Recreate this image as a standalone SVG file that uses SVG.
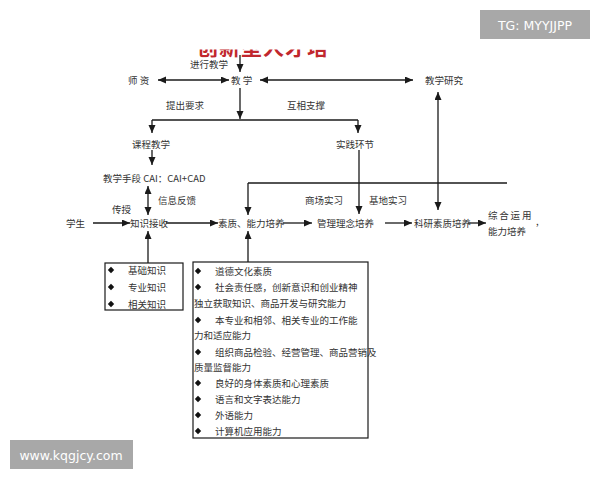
<svg xmlns="http://www.w3.org/2000/svg" width="600" height="480" viewBox="0 0 600 480">
<style>
.t{font-family:"Noto Sans CJK SC","Liberation Serif",serif;font-size:9.5px;fill:#333;dominant-baseline:central}
.c{fill:none;stroke:#1a1a1a;stroke-width:1.3}
.box{fill:#fff;stroke:#1a1a1a;stroke-width:1.2}
.wm{fill:#a8a8a8}
.wt{font-family:"DejaVu Sans","Liberation Sans",sans-serif;font-size:12.5px;fill:#fff;dominant-baseline:central;text-anchor:middle}
</style>
<defs>
<marker id="ah" markerUnits="userSpaceOnUse" markerWidth="9" markerHeight="8" refX="8" refY="3.5" orient="auto-start-reverse">
<path d="M0,0 L8,3.5 L0,7 z" fill="#1a1a1a"/>
</marker>
<path id="dm" d="M0,-3.2 L3.2,0 L0,3.2 L-3.2,0 z" fill="#111"/>
<clipPath id="tc" clipPathUnits="userSpaceOnUse"><rect x="190" y="49.5" width="150" height="8"/></clipPath>
</defs>
<rect width="600" height="480" fill="#fff"/>

<g id="title">
<text x="197" y="55" clip-path="url(#tc)" style="font-family:'Noto Sans CJK SC',sans-serif;font-size:21px;font-weight:bold;fill:#c1272d;letter-spacing:1px">创新型人才培</text>
</g>

<g id="connectors" class="c">
<path d="M240,55 V72" marker-end="url(#ah)"/>
<path d="M158,80 H229" marker-start="url(#ah)" marker-end="url(#ah)"/>
<path d="M260,80 H413" marker-start="url(#ah)" marker-end="url(#ah)"/>
<path d="M240,88 V119" marker-end="url(#ah)"/>
<path d="M152,120 H358"/>
<path d="M152,120 V133" marker-end="url(#ah)"/>
<path d="M358,120 V133" marker-end="url(#ah)"/>
<path d="M152,150 V165" marker-end="url(#ah)"/>
<path d="M148,186 V215" marker-start="url(#ah)" marker-end="url(#ah)"/>
<path d="M93,223 H130" marker-end="url(#ah)"/>
<path d="M166,223 H218" marker-end="url(#ah)"/>
<path d="M283,223 H312" marker-end="url(#ah)"/>
<path d="M385,223 H412" marker-end="url(#ah)"/>
<path d="M468,223 H486" marker-end="url(#ah)"/>
<path d="M359,150 V214" marker-end="url(#ah)"/>
<path d="M438,92 V210" marker-start="url(#ah)" marker-end="url(#ah)"/>
<path d="M248,183 H507"/>
<path d="M248,183 V215" marker-end="url(#ah)"/>
<path d="M148,263 V231" marker-end="url(#ah)"/>
<path d="M248,262 V231" marker-end="url(#ah)"/>
</g>

<g id="n-jinxing"><text class="t" x="190" y="63.5">进行教学</text></g>
<g id="n-shizi"><text class="t" x="128" y="80">师 资</text></g>
<g id="n-jiaoxue"><text class="t" x="231" y="80">教 学</text></g>
<g id="n-yanjiu"><text class="t" x="425" y="80">教学研究</text></g>
<g id="n-tichu"><text class="t" x="166" y="105">提出要求</text></g>
<g id="n-huxiang"><text class="t" x="287" y="105">互相支撑</text></g>
<g id="n-kecheng"><text class="t" x="132" y="144">课程教学</text></g>
<g id="n-shijian"><text class="t" x="336" y="144">实践环节</text></g>
<g id="n-shouduan"><text class="t" x="103" y="178">教学手段 CAI：CAI+CAD</text></g>
<g id="n-fankui"><text class="t" x="158" y="200">信息反馈</text></g>
<g id="n-chuanshou"><text class="t" x="112" y="209">传授</text></g>
<g id="n-shangchang"><text class="t" x="305" y="200">商场实习</text></g>
<g id="n-jidi"><text class="t" x="369" y="200">基地实习</text></g>
<g id="n-xuesheng"><text class="t" x="66" y="223">学生</text></g>
<g id="n-zhishi"><text class="t" x="130" y="223">知识接收</text></g>
<g id="n-suzhi"><text class="t" x="218" y="223">素质、能力培养</text></g>
<g id="n-guanli"><text class="t" x="317" y="223">管理理念培养</text></g>
<g id="n-keyan"><text class="t" x="414" y="223">科研素质培养</text></g>
<g id="n-zonghe"><text class="t" x="488" y="215" style="letter-spacing:1.8px">综合运用</text><text class="t" x="488" y="231">能力培养</text><text class="t" x="536" y="221">,</text></g>

<g id="n-zhishibox">
<rect class="box" x="105" y="263" width="78" height="47"/>
<use href="#dm" x="111" y="270"/><text class="t" x="128" y="270">基础知识</text>
<use href="#dm" x="111" y="287"/><text class="t" x="128" y="287">专业知识</text>
<use href="#dm" x="111" y="304"/><text class="t" x="128" y="304">相关知识</text>
</g>

<g id="n-suzhibox">
<rect class="box" x="193" y="262" width="175" height="176"/>
<use href="#dm" x="198" y="271"/><text class="t" x="215" y="271">道德文化素质</text>
<use href="#dm" x="198" y="287"/><text class="t" x="215" y="287">社会责任感，创新意识和创业精神</text>
<text class="t" x="194" y="303">独立获取知识、商品开发与研究能力</text>
<use href="#dm" x="198" y="320"/><text class="t" x="215" y="320">本专业和相邻、相关专业的工作能</text>
<text class="t" x="194" y="335">力和适应能力</text>
<use href="#dm" x="198" y="352"/><text class="t" x="215" y="352">组织商品检验、经营管理、商品营销及</text>
<text class="t" x="194" y="367">质量监督能力</text>
<use href="#dm" x="198" y="383"/><text class="t" x="215" y="383">良好的身体素质和心理素质</text>
<use href="#dm" x="198" y="399"/><text class="t" x="215" y="399">语言和文字表达能力</text>
<use href="#dm" x="198" y="415"/><text class="t" x="215" y="415">外语能力</text>
<use href="#dm" x="198" y="431"/><text class="t" x="215" y="431">计算机应用能力</text>
</g>

<g id="wm-top"><rect class="wm" x="480" y="10" width="110" height="29"/><text class="wt" x="535" y="25">TG: MYYJJPP</text></g>
<g id="wm-bottom"><rect class="wm" x="10" y="440" width="123" height="29"/><text class="wt" x="71" y="455">www.kqgjcy.com</text></g>
</svg>
